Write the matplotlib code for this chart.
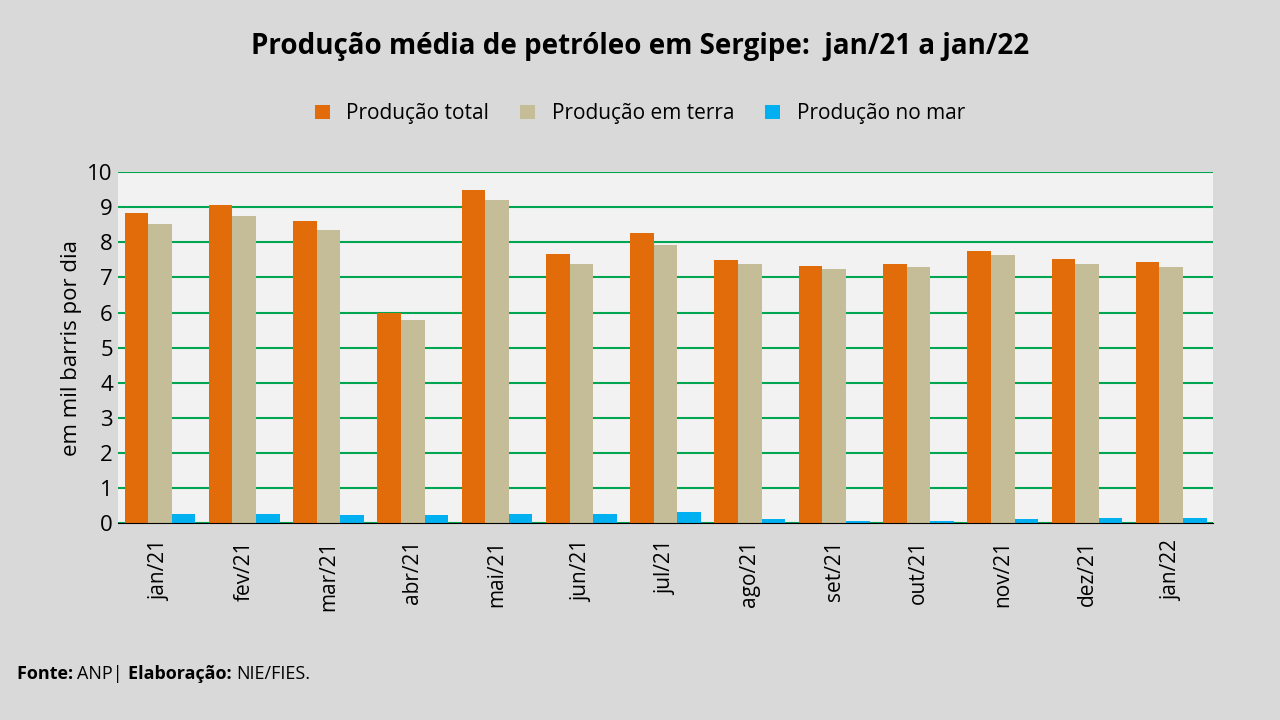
import matplotlib
matplotlib.use("Agg")
import matplotlib.pyplot as plt
import numpy as np

plt.rcParams['font.family'] = ['Open Sans', 'DejaVu Sans']

meses = ['jan/21', 'fev/21', 'mar/21', 'abr/21', 'mai/21', 'jun/21', 'jul/21',
         'ago/21', 'set/21', 'out/21', 'nov/21', 'dez/21', 'jan/22']
total = [8.83, 9.06, 8.60, 5.98, 9.49, 7.66, 8.26, 7.49, 7.32, 7.38, 7.75, 7.52, 7.44]
terra = [8.52, 8.75, 8.35, 5.78, 9.20, 7.38, 7.92, 7.38, 7.24, 7.29, 7.64, 7.38, 7.29]
mar = [0.28, 0.28, 0.25, 0.25, 0.28, 0.28, 0.32, 0.12, 0.08, 0.08, 0.12, 0.15, 0.15]

fig = plt.figure(figsize=(12.8, 7.2), dpi=100, facecolor='#d9d9d9')
ax = fig.add_axes([0.092, 0.273, 0.856, 0.488])
ax.set_facecolor('#f2f2f2')

x = np.arange(len(meses))
w = 0.28
ax.bar(x - w, total, w, color='#e36c0a', label='Produção total')
ax.bar(x, terra, w, color='#c4bd97', label='Produção em terra')
ax.bar(x + w, mar, w, color='#00b0f0', label='Produção no mar')

ax.set_xlim(-0.5, len(meses) - 0.5)
ax.set_ylim(0, 10)
ax.set_yticks(range(0, 11))
ax.yaxis.grid(True, color='#00a550', linewidth=1.5)
ax.set_axisbelow(True)
for s in ['top', 'right', 'left']:
    ax.spines[s].set_visible(False)
ax.spines['bottom'].set_color('#000000')
ax.tick_params(axis='y', length=0, labelsize=16)
ax.tick_params(axis='x', length=0, labelsize=15, pad=12)
ax.set_xticks(x)
ax.set_xticklabels(meses, rotation=90)
ax.set_ylabel('em mil barris por dia', fontsize=16)

fig.text(0.5, 0.935, 'Produção média de petróleo em Sergipe:  jan/21 a jan/22',
         ha='center', va='center', fontsize=20, fontweight='bold')
fig.legend(loc='center', bbox_to_anchor=(0.5, 0.842), ncol=3, frameon=False,
           fontsize=15, handlelength=0.7, handleheight=0.7, columnspacing=1.5)

# rodapé em pedaços (negrito / normal)
renderer = fig.canvas.get_renderer()
xpos = 0.013
for txt, wt in [('Fonte: ', 'bold'), ('ANP| ', 'normal'),
                ('Elaboração: ', 'bold'), ('NIE/FIES.', 'normal')]:
    t = fig.text(xpos, 0.057, txt, fontsize=13, fontweight=wt)
    bb = t.get_window_extent(renderer=renderer)
    xpos += bb.width / fig.bbox.width
fig.savefig('out.png', dpi=100, facecolor=fig.get_facecolor())
